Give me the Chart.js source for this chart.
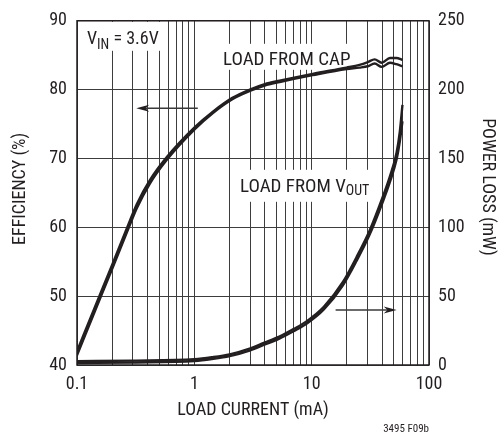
<!DOCTYPE html>
<html>
<head>
<meta charset="utf-8">
<style>
  html, body { margin: 0; padding: 0; background: #fff; overflow: hidden; }
  #wrap { position: relative; width: 498px; height: 437px; }
</style>
<script src="https://cdn.jsdelivr.net/npm/chart.js@4.4.1/dist/chart.umd.min.js"></script>
</head>
<body>
<div id="wrap"><canvas id="c" width="498" height="437"></canvas></div>
<script>
// Load current (mA) sample points for the efficiency trace
const effCurrent = [0.1, 0.142, 0.202, 0.283, 0.324, 0.418, 0.583, 1.01, 1.44, 2.11, 2.97, 3.98, 5.33, 10.2, 19.8, 25.6, 30.1, 34.4, 39.5, 46.5, 52.7, 59.6];
// Efficiency (%), load fed from the capacitor — two measured runs
const effCapRunA = [42.0, 48.4, 54.8, 61.0, 63.4, 66.85, 70.2, 74.55, 76.8, 78.8, 80.0, 80.8, 81.3, 82.3, 83.2, 83.6, 84.0, 84.4, 83.9, 84.6, 84.6, 84.3];
const effCapRunB = [41.4, 47.8, 54.2, 60.4, 62.8, 66.35, 69.8, 74.25, 76.6, 78.6, 79.8, 80.6, 81.1, 82.1, 83.0, 83.2, 83.4, 83.8, 83.3, 83.9, 83.7, 83.4];

// Load current (mA) sample points for the power-loss trace
const lossCurrent = [0.1, 0.3, 1, 1.41, 2, 3, 3.9, 5.3, 7, 9.1, 12.7, 18.4, 24.1, 31.2, 40.4, 46.3, 52.9, 56.4, 59.4];
// Power loss (mW), load fed from VOUT — two measured runs
const lossVoutRunA = [2.75, 3.15, 4.25, 5.65, 7.75, 12.1, 16.05, 20.65, 26.1, 31.85, 42.25, 60.1, 78.3, 97.7, 122.2, 136.6, 154.2, 169.5, 189];
const lossVoutRunB = [1.45, 1.85, 2.95, 4.35, 6.45, 10.7, 14.55, 19.15, 24.5, 30.15, 40.35, 57.7, 75.5, 94.7, 118.6, 132.6, 149.2, 162.5, 177];

// Axis ranges and tick labels
const xDecadeLabels = ['0.1', '1', '10', '100'];
const effTicks = [40, 50, 60, 70, 80, 90];
const lossTicks = [0, 50, 100, 150, 200, 250];

const INK = '#231f20';
const GRID = '#3d3d3d';
const FONT = "'Liberation Sans Narrow', 'Arial Narrow', 'Roboto Condensed', 'DejaVu Sans Condensed', sans-serif";

Chart.defaults.font.family = FONT;
Chart.defaults.color = INK;

function pts(xs, ys) { return xs.map((x, i) => ({ x: x, y: ys[i] })); }

function lineSet(xs, ys, axis) {
  return {
    data: pts(xs, ys),
    yAxisID: axis,
    borderColor: INK,
    borderWidth: 2.4,
    pointRadius: 0,
    fill: false,
    cubicInterpolationMode: 'monotone',
    borderCapStyle: 'butt'
  };
}

function isDecade(v) {
  const l = Math.log10(v);
  return Math.abs(l - Math.round(l)) < 1e-9;
}

function arrow(ctx, x0, y, x1) {
  // shaft from x0 to tip x1, filled head at x1
  const dir = Math.sign(x1 - x0);
  const headLen = 13, headHalf = 3.5;
  ctx.save();
  ctx.strokeStyle = '#3a3a3a';
  ctx.lineWidth = 1.5;
  ctx.beginPath();
  ctx.moveTo(x0, y);
  ctx.lineTo(x1 - dir * headLen * 0.6, y);
  ctx.stroke();
  ctx.fillStyle = INK;
  ctx.beginPath();
  ctx.moveTo(x1, y);
  ctx.lineTo(x1 - dir * headLen, y - headHalf);
  ctx.lineTo(x1 - dir * headLen * 0.7, y);
  ctx.lineTo(x1 - dir * headLen, y + headHalf);
  ctx.closePath();
  ctx.fill();
  ctx.restore();
}

function subText(ctx, x, y, main, sub, rest, size, subSize, drop) {
  ctx.font = size + 'px ' + FONT;
  ctx.fillText(main, x, y);
  x += ctx.measureText(main).width;
  ctx.font = subSize + 'px ' + FONT;
  ctx.fillText(sub, x, y + drop);
  x += ctx.measureText(sub).width;
  if (rest) {
    ctx.font = size + 'px ' + FONT;
    ctx.fillText(rest, x, y);
  }
}

const annotations = {
  id: 'annotations',
  beforeDatasetsDraw(chart) {
    const ctx = chart.ctx;
    const ca = chart.chartArea;
    const xs = chart.scales.x, ys = chart.scales.y, ys1 = chart.scales.y1;
    ctx.save();
    ctx.fillStyle = '#fff';
    // label backgrounds
    ctx.fillRect(ca.left + 1, ca.top + 1, 88, 29);
    ctx.fillRect(ca.left + 141, ca.top + 23, 134, 26);
    ctx.fillRect(ca.left + 157, ca.top + 149, 141, 32);

    ctx.fillStyle = INK;
    ctx.textBaseline = 'alphabetic';
    ctx.textAlign = 'left';
    subText(ctx, ca.left + 10, ca.top + 23.5, 'V', 'IN', ' = 3.6V', 18, 14, 5);
    ctx.font = '19px ' + FONT;
    ctx.fillText('LOAD FROM CAP', ca.left + 146, ca.top + 44);
    subText(ctx, ca.left + 163, ca.top + 171, 'LOAD FROM V', 'OUT', '', 19, 14, 3.5);

    // arrows pointing to each trace's axis
    arrow(ctx, xs.getPixelForValue(1.07), ys.getPixelForValue(77.3), xs.getPixelForValue(0.32));
    arrow(ctx, xs.getPixelForValue(16), ys1.getPixelForValue(40), xs.getPixelForValue(53));
    ctx.restore();
  },
  afterDraw(chart) {
    const ctx = chart.ctx;
    const ca = chart.chartArea;
    ctx.save();
    // plot frame
    ctx.strokeStyle = INK;
    ctx.lineWidth = 1.5;
    ctx.strokeRect(ca.left, ca.top, ca.right - ca.left, ca.bottom - ca.top);

    ctx.fillStyle = INK;
    ctx.font = '18px ' + FONT;
    ctx.textAlign = 'center';
    ctx.textBaseline = 'middle';
    // left axis title
    ctx.save();
    ctx.translate(20, (ca.top + ca.bottom) / 2 - 4);
    ctx.rotate(-Math.PI / 2);
    ctx.fillText('EFFICIENCY (%)', 0, 0);
    ctx.restore();
    // right axis title
    ctx.save();
    ctx.translate(487, (ca.top + ca.bottom) / 2 - 6);
    ctx.rotate(Math.PI / 2);
    ctx.fillText('POWER LOSS (mW)', 0, 0);
    ctx.restore();
    // bottom axis title
    ctx.textBaseline = 'alphabetic';
    ctx.fillText('LOAD CURRENT (mA)', (ca.left + ca.right) / 2, 415);
    // figure code
    ctx.font = '11px ' + FONT;
    ctx.textAlign = 'right';
    ctx.fillText('3495 F09b', ca.right, 432);
    ctx.restore();
  }
};

new Chart(document.getElementById('c'), {
  type: 'line',
  data: {
    datasets: [
      lineSet(effCurrent, effCapRunA, 'y'),
      lineSet(effCurrent, effCapRunB, 'y'),
      lineSet(lossCurrent, lossVoutRunA, 'y1'),
      lineSet(lossCurrent, lossVoutRunB, 'y1')
    ]
  },
  options: {
    responsive: false,
    animation: false,
    devicePixelRatio: 1,
    layout: { padding: { top: 14, left: 0, right: 0, bottom: 0 } },
    plugins: { legend: { display: false }, tooltip: { enabled: false } },
    scales: {
      x: {
        type: 'logarithmic',
        min: 0.1,
        max: 100,
        afterBuildTicks(scale) {
          const t = [];
          [0.1, 1, 10].forEach(d => { for (let k = 1; k <= 9; k++) t.push({ value: +(k * d).toPrecision(6) }); });
          t.push({ value: 100 });
          scale.ticks = t;
        },
        afterFit(scale) { scale.height = 72; },
        ticks: {
          autoSkip: false,
          maxRotation: 0,
          minRotation: 0,
          padding: 9,
          font: { size: 18 },
          color: INK,
          callback(v) {
            if (!isDecade(v)) return '';
            const i = Math.round(Math.log10(v)) + 1;
            return xDecadeLabels[i];
          }
        },
        grid: { color: GRID, lineWidth: 1, drawTicks: false },
        border: { display: false }
      },
      y: {
        type: 'linear',
        position: 'left',
        min: effTicks[0],
        max: effTicks[effTicks.length - 1],
        afterBuildTicks(scale) { scale.ticks = effTicks.map(v => ({ value: v })); },
        afterFit(scale) { scale.width = 77; },
        ticks: { padding: 10, font: { size: 18 }, color: INK },
        grid: { color: GRID, lineWidth: 1, drawTicks: false },
        border: { display: false }
      },
      y1: {
        type: 'linear',
        position: 'right',
        min: lossTicks[0],
        max: lossTicks[lossTicks.length - 1],
        afterBuildTicks(scale) { scale.ticks = lossTicks.map(v => ({ value: v })); },
        afterFit(scale) { scale.width = 69; },
        ticks: { padding: 9, font: { size: 18 }, color: INK },
        grid: { display: false, drawTicks: false },
        border: { display: false }
      }
    }
  },
  plugins: [annotations]
});
</script>
</body>
</html>
